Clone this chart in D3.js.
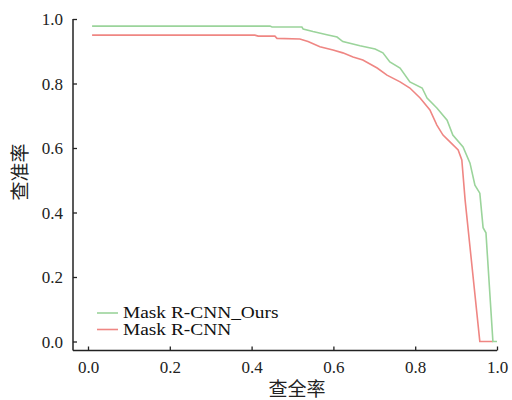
<!DOCTYPE html>
<html><head><meta charset="utf-8">
<script src="https://cdn.jsdelivr.net/npm/d3@7"></script>
<style>body{margin:0;background:#fff}svg{display:block}</style>
</head><body>
<script>
const xTicks = [0.0, 0.2, 0.4, 0.6, 0.8, 1.0];
const yTicks = [0.0, 0.2, 0.4, 0.6, 0.8, 1.0];
const seriesNames = ["Mask R-CNN_Ours", "Mask R-CNN"];
const xTitle = "查全率";
const yTitle = "查准率";
const oursRecall = [0.010,0.445,0.450,0.523,0.526,0.550,0.584,0.609,0.623,0.665,0.702,0.721,0.738,0.763,0.787,0.817,0.829,0.853,0.878,0.892,0.917,0.934,0.946,0.958,0.966,0.973,0.990,1.000];
const oursPrecision = [0.978,0.978,0.975,0.975,0.969,0.961,0.951,0.944,0.930,0.917,0.907,0.895,0.867,0.848,0.805,0.786,0.755,0.724,0.686,0.640,0.603,0.553,0.485,0.460,0.353,0.337,0.000,0.000];
const baseRecall = [0.010,0.408,0.416,0.457,0.462,0.518,0.538,0.567,0.599,0.623,0.648,0.672,0.707,0.731,0.763,0.787,0.812,0.836,0.853,0.868,0.885,0.905,0.914,0.922,0.958,0.990];
const basePrecision = [0.950,0.950,0.947,0.947,0.940,0.938,0.930,0.914,0.904,0.895,0.882,0.873,0.848,0.826,0.805,0.786,0.755,0.718,0.671,0.640,0.619,0.594,0.563,0.439,0.000,0.000];
const colors = ["#9bd49b", "#ef8683"];

const SERIF = '"Liberation Serif"';
const CJK = '"Noto Sans CJK SC"';
const W = 512, H = 400;
const svg = d3.select("body").append("svg").attr("width", W).attr("height", H);
const x = d3.scaleLinear().domain([0, 1]).range([88, 497]);
const y = d3.scaleLinear().domain([0, 1]).range([341.5, 19]);

// axes
const yAxis = svg.append("g").attr("transform", "translate(73,0)")
  .call(d3.axisRight(y).tickValues(yTicks).tickSize(4).tickFormat(d3.format(".1f")));
yAxis.attr("font-family", null).attr("font-size", null);
yAxis.select(".domain").attr("d", `M0,${y(1)}V350.5`);
yAxis.selectAll("text").attr("x", -10).attr("dy", "0.35em").attr("text-anchor", "end")
  .style("font-family", SERIF).style("font-size", "17px").attr("fill", "#222");
const xAxis = svg.append("g").attr("transform", "translate(0,350.5)")
  .call(d3.axisTop(x).tickValues(xTicks).tickSize(4).tickFormat(d3.format(".1f")));
xAxis.attr("font-family", null).attr("font-size", null);
xAxis.select(".domain").attr("d", `M73,0H${x(1)}`);
xAxis.selectAll("text").attr("y", 22).attr("dy", 0)
  .style("font-family", SERIF).style("font-size", "17px").attr("fill", "#222");
svg.selectAll(".domain").attr("stroke", "#222").attr("stroke-width", 1.5);
svg.selectAll(".tick line").attr("stroke", "#222").attr("stroke-width", 1.3);

// curves
const line = d3.line().x(d => x(d[0])).y(d => y(d[1]));
const series = [d3.zip(oursRecall, oursPrecision), d3.zip(baseRecall, basePrecision)];
[1, 0].forEach(i => {
  svg.append("path").datum(series[i]).attr("d", line)
    .attr("fill", "none").attr("stroke", colors[i]).attr("stroke-width", 1.6);
});

// legend
seriesNames.forEach((name, i) => {
  const ly = 313 + i * 16.5;
  svg.append("line").attr("x1", 97).attr("x2", 118).attr("y1", ly).attr("y2", ly)
    .attr("stroke", colors[i]).attr("stroke-width", 1.6);
  svg.append("text").attr("transform", `translate(123,${ly + 5}) scale(1.14,1)`).text(name)
    .style("font-family", SERIF).style("font-size", "17px").attr("fill", "#111");
});

// titles
svg.append("text").attr("x", 297).attr("y", 396).attr("text-anchor", "middle")
  .style("font-family", CJK).style("font-size", "19px").attr("fill", "#222").text(xTitle);
svg.append("text").attr("transform", "translate(27,172) rotate(-90)").attr("text-anchor", "middle")
  .style("font-family", CJK).style("font-size", "19px").attr("fill", "#222").text(yTitle);
</script>
</body></html>
